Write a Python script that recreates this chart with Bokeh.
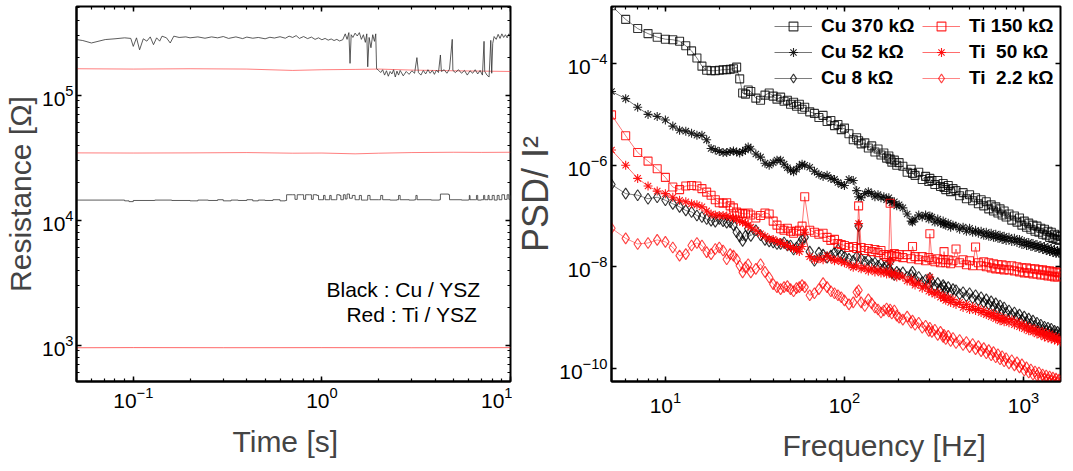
from bokeh.plotting import figure
from bokeh.layouts import row
from bokeh.models import LogAxis, LogTicker, FixedTicker, Legend, LegendItem, Label, Title
from bokeh.embed import file_html
from bokeh.resources import INLINE

FONT = "Liberation Sans"

# ---------------- left panel data: (time [s], resistance [kOhm]) ----------------
cu_high = [
    (0.050, 279), (0.054, 274), (0.060, 262), (0.065, 270), (0.071, 279), (0.080, 283),
    (0.090, 288), (0.097, 285), (0.100, 246), (0.104, 288), (0.108, 231), (0.113, 283),
    (0.118, 271), (0.123, 293), (0.128, 254), (0.133, 288), (0.138, 271), (0.142, 297),
    (0.150, 288), (0.157, 262), (0.164, 297), (0.175, 290), (0.19, 293), (0.20, 288),
    (0.22, 293), (0.24, 286), (0.26, 293), (0.28, 288), (0.30, 295), (0.32, 285),
    (0.35, 293), (0.38, 284), (0.40, 292), (0.43, 286), (0.46, 290), (0.50, 283),
    (0.53, 291), (0.56, 287), (0.60, 294), (0.64, 286), (0.67, 297), (0.70, 290),
    (0.73, 300), (0.76, 285), (0.80, 295), (0.84, 284), (0.88, 292), (0.92, 280),
    (0.96, 288), (1.00, 278), (1.04, 285), (1.08, 276), (1.12, 282), (1.16, 274),
    (1.20, 280), (1.24, 272), (1.29, 278), (1.33, 310), (1.36, 280), (1.39, 317),
    (1.41, 180), (1.43, 305), (1.46, 290), (1.50, 314), (1.54, 298), (1.58, 317),
    (1.62, 280), (1.66, 305), (1.70, 265), (1.73, 310), (1.75, 169), (1.78, 290),
    (1.82, 240), (1.86, 305), (1.90, 270), (1.93, 310), (1.95, 163), (2.00, 158),
    (2.05, 152), (2.10, 160), (2.15, 145), (2.20, 157), (2.25, 142), (2.30, 155),
    (2.35, 148), (2.40, 160), (2.45, 140), (2.50, 156), (2.55, 145), (2.60, 158),
    (2.70, 143), (2.80, 155), (2.90, 147), (3.00, 157), (3.10, 150), (3.19, 200),
    (3.25, 152), (3.35, 145), (3.45, 158), (3.55, 148), (3.65, 160), (3.75, 150),
    (3.85, 158), (3.95, 147), (4.05, 159), (4.15, 152), (4.25, 210), (4.30, 155),
    (4.45, 160), (4.60, 150), (4.75, 162), (4.91, 280), (4.95, 158), (5.10, 152),
    (5.30, 160), (5.50, 150), (5.70, 158), (5.90, 145), (6.10, 157), (6.30, 150),
    (6.50, 160), (6.70, 148), (6.90, 158), (7.10, 145), (7.24, 270), (7.30, 155),
    (7.50, 145), (7.70, 140), (7.86, 275), (7.95, 150), (8.05, 260), (8.19, 295),
    (8.40, 280), (8.60, 307), (8.80, 285), (9.00, 310), (9.20, 290), (9.40, 305),
    (9.60, 288), (9.80, 310), (10.0, 295),
]
cu_low = [
    (0.05, 14.5), (0.07, 14.5), (0.09, 14.3), (0.095, 14.1), (0.10, 14.4), (0.13, 14.5),
    (0.16, 14.4), (0.20, 14.3), (0.22, 14.5), (0.25, 14.4), (0.28, 14.6), (0.30, 14.3),
    (0.33, 14.5), (0.36, 14.4), (0.40, 14.6), (0.43, 14.3), (0.46, 14.5), (0.50, 14.4),
    (0.55, 14.6), (0.60, 14.3), (0.64, 14.4), (0.65, 16.0), (0.70, 16.0), (0.72, 14.7),
    (0.74, 16.0), (0.78, 16.0), (0.80, 14.7), (0.82, 16.0), (0.86, 16.0), (0.88, 14.7),
    (0.90, 16.0), (0.94, 15.8), (0.96, 14.6), (1.00, 14.6), (1.02, 15.8), (1.04, 14.6),
    (1.08, 14.6), (1.10, 15.8), (1.12, 14.6), (1.18, 14.6), (1.20, 16.0), (1.24, 15.8),
    (1.26, 14.6), (1.30, 16.0), (1.33, 14.8), (1.36, 16.2), (1.40, 15.0), (1.45, 15.8),
    (1.50, 14.6), (1.55, 14.6), (1.58, 15.8), (1.62, 14.5), (1.70, 14.5), (1.75, 15.8),
    (1.80, 14.6), (2.00, 14.6), (2.05, 15.8), (2.10, 14.6), (2.30, 14.5), (2.50, 14.6),
    (2.55, 15.8), (2.60, 14.6), (2.90, 14.5), (3.10, 14.6), (3.15, 15.8), (3.20, 14.6),
    (3.80, 14.5), (4.20, 14.6), (4.25, 16.2), (4.70, 16.0), (4.75, 14.6), (5.50, 14.5),
    (6.00, 14.6), (6.05, 15.8), (6.10, 14.6), (6.50, 14.6), (6.60, 15.8), (6.70, 14.5),
    (7.00, 14.6), (7.20, 15.8), (7.30, 14.6), (7.60, 15.8), (7.70, 14.6), (8.00, 15.8),
    (8.20, 14.5), (8.50, 15.8), (8.70, 14.6), (9.00, 16.0), (9.30, 14.7), (9.60, 16.0),
    (9.80, 14.7), (10.0, 15.8),
]
ti_150 = [(0.05, 163), (0.1, 162), (0.2, 163), (0.4, 162), (0.7, 158), (1.0, 160),
          (1.5, 161), (2.0, 162), (3.0, 159), (5.0, 157), (7.0, 156), (10.0, 155)]
ti_50 = [(0.05, 34.6), (0.1, 34.5), (0.2, 34.6), (0.4, 34.8), (0.7, 34.4), (1.0, 34.5),
         (1.5, 34.0), (2.0, 34.4), (3.0, 34.8), (5.0, 35.0), (7.0, 34.9), (10.0, 35.0)]
ti_2k = [(0.05, 0.955), (0.1, 0.958), (0.3, 0.956), (1.0, 0.957), (3.0, 0.955), (10.0, 0.957)]

# ---------------- right panel data: frequency [Hz] and log10(PSD/I^2) ----------------
freq = ([5, 6, 7, 8, 9, 10, 11, 12, 13, 14, 15, 16, 17, 18, 19, 20, 21, 22, 23, 24, 25, 26, 27, 28, 29, 30]
        + [32, 34, 36, 38, 40, 42, 44, 46, 48, 50, 52, 54, 56, 58, 60]
        + [64, 68, 72, 76, 80, 84, 88, 92, 96, 100]
        + [106, 112, 117, 120, 124, 130, 136, 142, 148, 154, 160, 166, 172, 177, 180, 184, 190, 196, 202]
        + [212, 224, 236, 240, 248, 260, 272, 284, 296, 300, 308, 320, 332, 344, 356, 360, 368, 380, 392, 404]
        + [420, 440, 460, 480, 500, 520, 540, 560, 580, 600, 620, 640, 660, 680, 700, 720, 740, 760, 780, 800]
        + [830, 860, 890, 920, 950, 980, 1010, 1040, 1070, 1100, 1130, 1160, 1190, 1220, 1250, 1280, 1310,
           1340, 1370, 1400, 1430, 1460, 1490, 1520, 1550, 1580, 1610])

cu370 = ([-2.86, -3.13, -3.31, -3.41, -3.48, -3.52, -3.53, -3.56, -3.65, -3.75, -3.89, -4.05, -4.13, -4.14,
          -4.14, -4.13, -4.12, -4.12, -4.11, -4.10, -4.07, -4.30, -4.58, -4.60, -4.52, -4.55]
         + [-4.68, -4.72, -4.62, -4.58, -4.64, -4.70, -4.66, -4.74, -4.72, -4.80, -4.76, -4.84, -4.80, -4.90, -4.86]
         + [-4.95, -4.98, -5.06, -5.02, -5.14, -5.12, -5.22, -5.20, -5.30, -5.27]
         + [-5.38, -5.50, -5.46, -5.52, -5.58, -5.56, -5.66, -5.62, -5.74, -5.68, -5.80, -5.76, -5.86, -5.82,
            -5.88, -5.94, -5.90, -6.00, -5.95]
         + [-6.02, -6.14, -6.08, -6.16, -6.20, -6.14, -6.28, -6.22, -6.32, -6.26, -6.30, -6.38, -6.30, -6.42,
            -6.36, -6.44, -6.48, -6.40, -6.52, -6.46]
         + [-6.50, -6.60, -6.54, -6.66, -6.58, -6.70, -6.64, -6.76, -6.68, -6.80, -6.72, -6.86, -6.78, -6.90,
            -6.82, -6.94, -6.86, -6.98, -6.90, -7.02]
         + [-6.96, -7.08, -7.00, -7.12, -7.04, -7.18, -7.10, -7.22, -7.14, -7.26, -7.18, -7.30, -7.20, -7.32,
            -7.24, -7.36, -7.26, -7.38, -7.30, -7.42, -7.32, -7.44, -7.36, -7.46, -7.38, -7.48, -7.40])
cu52 = ([-4.55, -4.69, -4.86, -5.00, -5.04, -5.11, -5.23, -5.31, -5.33, -5.37, -5.41, -5.41, -5.50, -5.67,
         -5.70, -5.73, -5.75, -5.75, -5.73, -5.72, -5.74, -5.76, -5.73, -5.70, -5.64, -5.68]
        + [-5.78, -5.84, -5.96, -6.00, -5.95, -5.90, -5.90, -5.98, -6.05, -6.10, -6.13, -6.08, -6.02, -5.98, -6.00]
        + [-6.04, -6.12, -6.18, -6.22, -6.20, -6.26, -6.28, -6.34, -6.38, -6.40]
        + [-6.28, -6.30, -6.50, -6.62, -6.64, -6.56, -6.52, -6.56, -6.62, -6.58, -6.64, -6.62, -6.68, -6.64,
           -6.70, -6.74, -6.72, -6.80, -6.78]
        + [-6.84, -6.96, -7.10, -7.12, -7.06, -6.98, -7.02, -6.98, -7.06, -7.00, -7.02, -7.12, -7.06, -7.14,
           -7.10, -7.16, -7.18, -7.14, -7.22, -7.18]
        + [-7.20, -7.26, -7.22, -7.30, -7.24, -7.32, -7.28, -7.34, -7.30, -7.38, -7.32, -7.40, -7.34, -7.42,
           -7.36, -7.44, -7.38, -7.46, -7.40, -7.48]
        + [-7.42, -7.50, -7.44, -7.52, -7.46, -7.56, -7.50, -7.58, -7.52, -7.60, -7.54, -7.62, -7.56, -7.64,
           -7.58, -7.66, -7.60, -7.68, -7.62, -7.70, -7.64, -7.72, -7.66, -7.74, -7.68, -7.74, -7.68])
cu8 = ([-6.38, -6.56, -6.59, -6.66, -6.63, -6.69, -6.76, -6.82, -6.89, -6.92, -6.99, -7.02, -7.06, -7.09,
        -7.11, -7.06, -7.10, -7.13, -7.12, -7.18, -7.32, -7.40, -7.49, -7.39, -7.25, -7.39]
       + [-7.28, -7.38, -7.47, -7.50, -7.52, -7.55, -7.55, -7.52, -7.58, -7.58, -7.66, -7.62, -7.55, -7.46, -7.42]
       + [-7.70, -7.88, -7.72, -7.76, -7.82, -7.78, -7.72, -7.66, -7.76, -7.80]
       + [-7.84, -7.88, -7.80, -7.20, -7.84, -7.90, -7.86, -7.94, -7.92, -7.98, -7.94, -8.02, -7.98, -8.04,
          -7.90, -8.12, -8.16, -8.10, -8.14]
       + [-8.11, -8.20, -8.16, -8.10, -8.24, -8.20, -8.30, -8.26, -8.34, -8.22, -8.30, -8.38, -8.32, -8.42,
          -8.36, -8.40, -8.46, -8.40, -8.50, -8.44]
       + [-8.46, -8.54, -8.50, -8.58, -8.52, -8.62, -8.56, -8.66, -8.60, -8.70, -8.64, -8.74, -8.68, -8.78,
          -8.72, -8.82, -8.76, -8.86, -8.80, -8.90]
       + [-8.86, -8.94, -8.90, -8.98, -8.94, -9.04, -8.98, -9.08, -9.02, -9.12, -9.06, -9.16, -9.10, -9.20,
          -9.14, -9.24, -9.18, -9.26, -9.20, -9.28, -9.22, -9.32, -9.26, -9.34, -9.28, -9.36, -9.30])
ti150 = ([-5.01, -5.42, -5.75, -5.92, -6.07, -6.24, -6.43, -6.48, -6.41, -6.40, -6.41, -6.46, -6.53, -6.59,
          -6.68, -6.74, -6.75, -6.74, -6.80, -6.84, -6.92, -6.94, -6.95, -6.96, -6.94, -6.98]
         + [-7.04, -6.99, -6.94, -6.96, -7.10, -7.18, -7.25, -7.28, -7.24, -7.30, -7.34, -7.30, -7.28, -7.20, -6.62]
         + [-7.28, -7.32, -7.36, -7.34, -7.42, -7.48, -7.46, -7.54, -7.56, -7.58]
         + [-7.62, -7.60, -7.64, -6.80, -7.62, -7.68, -7.64, -7.70, -7.66, -7.72, -7.68, -7.76, -7.80, -7.76,
            -6.75, -7.78, -7.74, -7.80, -7.76]
         + [-7.82, -7.76, -7.84, -7.60, -7.80, -7.86, -7.80, -7.88, -7.82, -7.35, -7.86, -7.90, -7.84, -7.92,
            -7.86, -7.70, -7.92, -7.86, -7.94, -7.88]
         + [-7.65, -7.92, -7.86, -7.96, -7.88, -7.98, -7.61, -7.92, -7.98, -7.90, -8.00, -7.92, -8.02, -7.94,
            -8.04, -7.96, -8.04, -7.96, -8.06, -7.98]
         + [-8.06, -7.98, -8.08, -8.00, -8.10, -8.02, -8.12, -8.02, -8.12, -8.04, -8.14, -8.04, -8.14, -8.06,
            -8.16, -8.06, -8.16, -8.08, -8.18, -8.08, -8.18, -8.10, -8.20, -8.10, -8.20, -8.12, -8.18])
ti50 = ([-5.70, -6.00, -6.26, -6.41, -6.51, -6.56, -6.63, -6.69, -6.72, -6.76, -6.78, -6.82, -6.90, -6.96,
         -6.98, -6.99, -6.99, -7.00, -7.02, -7.04, -7.06, -7.10, -7.12, -7.14, -7.18, -7.22]
        + [-7.28, -7.35, -7.40, -7.45, -7.46, -7.50, -7.52, -7.56, -7.58, -7.62, -7.64, -7.65, -7.70, -7.60, -7.32]
        + [-7.80, -7.86, -7.84, -7.86, -7.78, -7.84, -7.88, -7.86, -7.90, -7.92]
        + [-7.96, -8.01, -7.98, -7.15, -8.04, -8.02, -8.08, -8.04, -8.10, -8.06, -8.12, -8.08, -8.14, -8.10,
           -7.90, -8.16, -8.12, -8.20, -8.16]
        + [-8.20, -8.28, -8.24, -8.30, -8.36, -8.32, -8.42, -8.38, -8.48, -8.20, -8.50, -8.54, -8.50, -8.60,
           -8.56, -8.62, -8.66, -8.60, -8.70, -8.64]
        + [-8.74, -8.70, -8.80, -8.74, -8.84, -8.78, -8.86, -8.82, -8.90, -8.86, -8.94, -8.90, -8.98, -8.92,
           -9.02, -8.96, -9.06, -9.00, -9.08, -9.02]
        + [-9.10, -9.04, -9.14, -9.08, -9.18, -9.12, -9.22, -9.16, -9.26, -9.20, -9.28, -9.22, -9.32, -9.26,
           -9.34, -9.28, -9.38, -9.30, -9.40, -9.32, -9.42, -9.36, -9.44, -9.38, -9.46, -9.40, -9.48])
ti2k = ([-7.24, -7.44, -7.55, -7.53, -7.47, -7.51, -7.62, -7.78, -7.75, -7.58, -7.53, -7.58, -7.71, -7.75,
         -7.65, -7.62, -7.68, -7.85, -7.75, -7.78, -7.85, -7.98, -8.11, -8.01, -7.95, -8.11]
        + [-8.04, -7.95, -8.10, -8.21, -8.34, -8.40, -8.44, -8.40, -8.38, -8.44, -8.48, -8.42, -8.40, -8.36, -8.40]
        + [-8.56, -8.52, -8.44, -8.32, -8.40, -8.48, -8.52, -8.56, -8.60, -8.66]
        + [-8.74, -8.70, -8.50, -8.46, -8.70, -8.77, -8.64, -8.72, -8.80, -8.84, -8.90, -8.86, -8.82, -8.88,
           -8.84, -8.92, -8.86, -8.96, -9.00]
        + [-9.04, -8.98, -9.10, -9.06, -9.14, -9.10, -9.20, -9.16, -9.26, -9.20, -9.28, -9.24, -9.34, -9.28,
           -9.38, -9.34, -9.42, -9.36, -9.46, -9.40]
        + [-9.50, -9.44, -9.54, -9.48, -9.58, -9.52, -9.62, -9.56, -9.66, -9.60, -9.70, -9.64, -9.74, -9.68,
           -9.78, -9.72, -9.82, -9.76, -9.86, -9.80]
        + [-9.90, -9.84, -9.94, -9.88, -9.98, -9.92, -10.04, -9.98, -10.08, -10.02, -10.12, -10.06, -10.14,
           -10.08, -10.18, -10.12, -10.20, -10.14, -10.22, -10.16, -10.24, -10.18, -10.26, -10.20, -10.28,
           -10.22, -10.30])

psd_ticks = [1e-10, 1e-8, 1e-6, 1e-4]

legend_cu = ["Cu 370 kΩ", "Cu 52 kΩ", "Cu 8 kΩ"]
legend_ti = ["Ti 150 kΩ", "Ti\u00a0 50 kΩ", "Ti\u00a0 2.2 kΩ"]


def style_axis(ax, size, standoff):
    ax.axis_line_width = 2
    ax.axis_line_color = "black"
    ax.major_tick_in = 5
    ax.major_tick_out = 0
    ax.minor_tick_in = 3
    ax.minor_tick_out = 0
    ax.major_tick_line_width = 1.5
    ax.minor_tick_line_width = 1.2
    ax.major_label_text_font = FONT
    ax.major_label_text_font_size = size
    ax.major_label_text_color = "black"
    ax.major_label_standoff = standoff


def add_mirror(p, side, ticker, loc):
    ax = LogAxis(ticker=ticker, fixed_location=loc)
    style_axis(ax, "0px", 0)
    ax.axis_line_alpha = 0
    ax.major_label_text_alpha = 0
    p.add_layout(ax, side)


def add_xtitle(p, text, offset, gap):
    # invisible spacer between the tick labels and the axis title
    p.add_layout(Title(text="\u00a0", text_font_size="1px", standoff=gap), "below")
    p.add_layout(Title(text=text, align="left", offset=offset, text_font=FONT,
                       text_font_size="30px", text_font_style="normal", standoff=0), "below")


def base_fig(**kw):
    p = figure(x_axis_type="log", y_axis_type="log", output_backend="svg",
               toolbar_location=None, background_fill_color="white",
               border_fill_color="white", **kw)
    p.xgrid.visible = False
    p.ygrid.visible = False
    p.outline_line_color = "black"
    p.outline_line_width = 2
    return p


# ---------------- left panel ----------------
p1 = base_fig(width=512, height=463, x_range=(0.05, 10), y_range=(513, 5.13e5),
              min_border_left=67, min_border_right=2, min_border_top=5, min_border_bottom=79)
xt1 = LogTicker(num_minor_ticks=10)
yt1 = LogTicker(num_minor_ticks=10)
p1.xaxis.ticker = xt1
p1.yaxis.ticker = yt1
style_axis(p1.xaxis[0], "21px", 5)
style_axis(p1.yaxis[0], "21px", 3)
p1.yaxis.axis_label = "Resistance [Ω]"
p1.yaxis.axis_label_text_font = FONT
p1.yaxis.axis_label_text_font_size = "30px"
p1.yaxis.axis_label_text_font_style = "normal"
p1.yaxis.axis_label_standoff = 2
add_mirror(p1, "above", xt1, 5.13e5)
add_mirror(p1, "right", yt1, 10)
add_xtitle(p1, "Time [s]", 156, 9)

for data, col, alpha, kind in [(ti_150, "#ff2a2a", 0.6, "line"), (ti_50, "#ff2a2a", 0.6, "line"),
                               (ti_2k, "#ff2a2a", 0.7, "line"), (cu_low, "#333333", 0.8, "step"),
                               (cu_high, "#333333", 0.8, "line")]:
    t = [d[0] for d in data]
    r = [d[1] * 1e3 for d in data]
    if kind == "step":
        p1.step(t, r, mode="after", line_color=col, line_alpha=alpha, line_width=1)
    else:
        p1.line(t, r, line_color=col, line_alpha=alpha, line_width=1)

p1.add_layout(Label(x=404, y=92, x_units="screen", y_units="screen", text="Black : Cu / YSZ",
                    text_align="right", text_baseline="middle", text_font=FONT,
                    text_font_size="21px", text_color="black"))
p1.add_layout(Label(x=401, y=67, x_units="screen", y_units="screen", text="Red : Ti / YSZ",
                    text_align="right", text_baseline="middle", text_font=FONT,
                    text_font_size="21px", text_color="black"))

# ---------------- right panel ----------------
p2 = base_fig(width=551, height=463, x_range=(5, 1610), y_range=(5.53e-11, 1.33e-3),
              min_border_left=97, min_border_right=3, min_border_top=6, min_border_bottom=82)
xt2 = LogTicker(num_minor_ticks=10)
yt2 = FixedTicker(ticks=psd_ticks, minor_ticks=[])
p2.xaxis.ticker = xt2
p2.yaxis.ticker = yt2
style_axis(p2.xaxis[0], "21px", 10)
style_axis(p2.yaxis[0], "21px", 4)
p2.yaxis.axis_label = "PSD/ I²"
p2.yaxis.axis_label_text_font = FONT
p2.yaxis.axis_label_text_font_size = "36px"
p2.yaxis.axis_label_text_font_style = "normal"
p2.yaxis.axis_label_standoff = 0
add_mirror(p2, "above", xt2, 1.33e-3)
add_mirror(p2, "right", yt2, 1610)
add_xtitle(p2, "Frequency [Hz]", 171, 8)


def series(logs, marker, color, size, alpha):
    psd = [10 ** v for v in logs]
    ln = p2.line(freq, psd, line_color=color, line_width=0.8, line_alpha=alpha * 0.8)
    sc = p2.scatter(freq, psd, marker=marker, size=size, line_color=color, fill_color=None,
                    line_alpha=alpha, line_width=1.1)
    return [ln, sc]


r_cu = [series(cu370, "square", "black", 8, 0.8),
        series(cu52, "asterisk", "black", 9, 0.85),
        series(cu8, "diamond", "black", 11, 0.8)]
r_ti = [series(ti150, "square", "red", 8, 0.85),
        series(ti50, "asterisk", "red", 9, 0.9),
        series(ti2k, "diamond", "red", 11, 0.75)]


def make_legend(labels, rends, loc):
    return Legend(items=[LegendItem(label=l, renderers=r) for l, r in zip(labels, rends)],
                  location=loc, label_text_font=FONT, label_text_font_size="19px",
                  label_text_font_style="bold", label_text_color="black",
                  glyph_width=38, glyph_height=22, label_height=22, label_standoff=9,
                  spacing=4, padding=0, margin=0, border_line_alpha=0,
                  background_fill_alpha=0)


p2.add_layout(make_legend(legend_cu, r_cu, (163, 292)))
p2.add_layout(make_legend(legend_ti, r_ti, (311, 292)))

layout = row(p1, p2, spacing=0)
open("out.html", "w").write(file_html(layout, INLINE))
